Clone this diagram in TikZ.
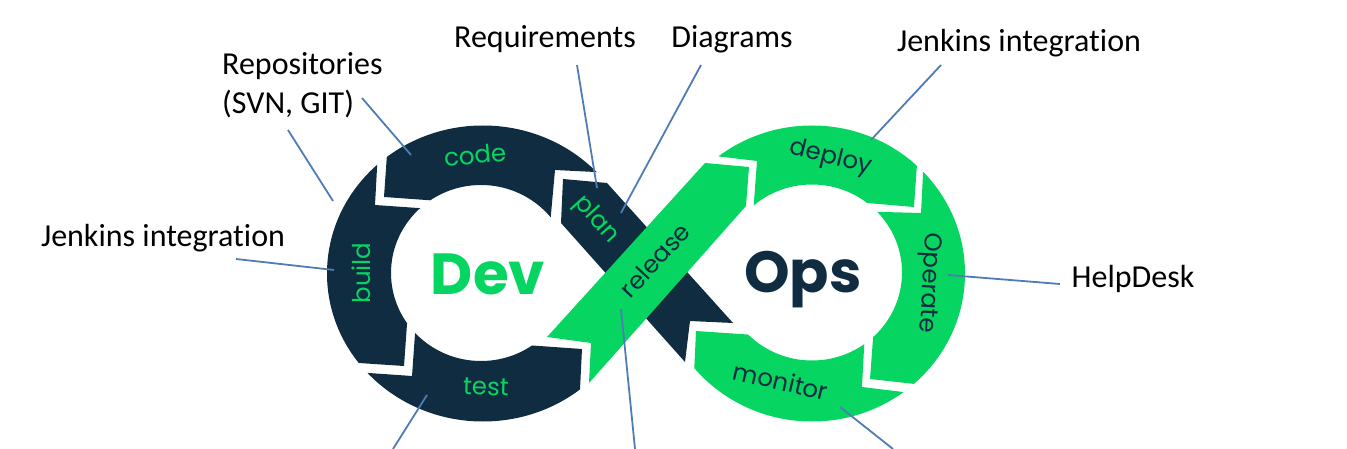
\documentclass[tikz,border=0pt]{standalone}
\usepackage{fontspec}
\setmainfont{Carlito}[Ligatures=NoCommon]
\newfontfamily\logofont{Poppins}
\usepackage{xcolor}
\usepackage{tikz}
\definecolor{navy}{HTML}{0F2C41}
\definecolor{mint}{HTML}{06D661}
\definecolor{leaderblue}{HTML}{4F7CB5}

\begin{document}
\begin{tikzpicture}[x=1pt,y=-1pt,
  note/.style={font=\fontsize{32}{39}\selectfont,inner sep=0pt,align=left},
  leader/.style={draw=leaderblue,line width=1.8pt},
  devtag/.style={font=\logofont\fontsize{24.5}{26}\selectfont,text=mint,inner sep=0pt},
  opstag/.style={font=\logofont\fontsize{24.5}{26}\selectfont,text=navy,inner sep=0pt},
  bigtag/.style={font=\logofont\bfseries\fontsize{58}{60}\selectfont,inner sep=0pt}]
  \useasboundingbox (0,0) rectangle (1347,449);

  % Dev loop
  \begin{scope}[even odd rule]
    \clip (483,273.5) ellipse [x radius=156,y radius=148]
      (481,273) ellipse [x radius=90,y radius=88];
    \fill[navy] (388,140)--(384,197)--(440,201)--(500,240)--(550,225)--(555,170)--(615,173)--(615,100)--(388,100)--cycle;
    \fill[navy] (378,150)--(375,205)--(425,208.5)--(425,300)--(408,310)--(404,366)--(359,363)--(320,360)--(320,150)--cycle;
    \fill[navy] (340,371)--(412,376)--(416,320)--(480,300)--(525,345)--(582,349)--(578,430)--(340,430)--cycle;
  \end{scope}

  % Ops loop
  \begin{scope}[even odd rule]
    \clip (812,273.5) ellipse [x radius=153,y radius=148]
      (812,272.5) ellipse [x radius=90,y radius=88];
    \fill[mint] (690,153)--(757,161)--(753,215)--(810,240)--(855,202)--(914,207)--(918,150)--(918,100)--(690,100)--cycle;
    \fill[mint] (924,155)--(921,213)--(865,211.5)--(860,300)--(874,325)--(870,379)--(915,384)--(990,390)--(990,155)--cycle;
    \fill[mint] (696,331)--(755,335)--(800,300)--(865,330)--(862,387)--(903,392)--(930,394)--(930,440)--(691,440)--cycle;
  \end{scope}

  % crossing bands
  \fill[navy] (563,179)--(607,183)--(733,323)--(690,321)--(685,362)--(561,223)--cycle;
  \fill[mint] (705,163)--(749,167)--(746,206)--(589,383)--(591,343)--(547,337)--cycle;

  \node[devtag,rotate=5] (code) at (475,155) {code};
  \node[devtag,rotate=-48] (plan) at (596,220) {plan};
  \node[devtag,rotate=90] (build) at (361,273) {build};
  \node[devtag,rotate=-2] (test) at (486,387) {test};
  \node[opstag,rotate=47] (release) at (655,260) {release};
  \node[opstag,rotate=-14] (deploy) at (831,158) {deploy};
  \node[opstag,rotate=-93] (operate) at (928,283) {Operate};
  \node[opstag,rotate=-13] (monitor) at (781,381) {monitor};
  \node[bigtag,text=mint] (dev) at (488,274) {Dev};
  \node[bigtag,text=navy] (ops) at (803,280) {Ops};

  \node[note,anchor=west] (repos) at (222,85) {Repositories\\(SVN, GIT)};
  \node[note] (requirements) at (545,39) {Requirements};
  \node[note] (diagrams) at (732,39) {Diagrams};
  \node[note] (jenkinsops) at (1019,43) {Jenkins integration};
  \node[note] (jenkinsdev) at (163,238) {Jenkins integration};
  \node[note] (helpdesk) at (1133,279) {HelpDesk};

  \coordinate (reposout) at (362,98);
  \coordinate (codept) at (411,155);
  \coordinate (reposlow) at (288,130);
  \coordinate (buildtop) at (333,201);
  \coordinate (reqout) at (577,65);
  \coordinate (planpt) at (597,188);
  \coordinate (diagout) at (701,65);
  \coordinate (planlow) at (621,213);
  \coordinate (jenkout) at (941,65);
  \coordinate (deploypt) at (871,140);
  \coordinate (jenkleft) at (236,259);
  \coordinate (buildpt) at (334,270);
  \coordinate (helpout) at (1060,284);
  \coordinate (operatept) at (948,275);
  \coordinate (testpt) at (427,395);
  \coordinate (testout) at (393,449);
  \coordinate (releasept) at (621,309);
  \coordinate (releaseout) at (635,449);
  \coordinate (monitorpt) at (840,407);
  \coordinate (monitorout) at (893,449);

  \draw[leader] (reposout)--(codept);
  \draw[leader] (reposlow)--(buildtop);
  \draw[leader] (reqout)--(planpt);
  \draw[leader] (diagout)--(planlow);
  \draw[leader] (jenkout)--(deploypt);
  \draw[leader] (jenkleft)--(buildpt);
  \draw[leader] (helpout)--(operatept);
  \draw[leader] (testpt)--(testout);
  \draw[leader] (releasept)--(releaseout);
  \draw[leader] (monitorpt)--(monitorout);
\end{tikzpicture}
\end{document}
